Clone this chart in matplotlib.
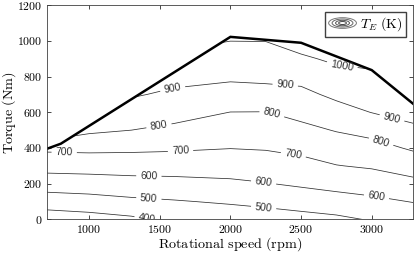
import matplotlib
matplotlib.use('Agg')
import matplotlib.pyplot as plt
from matplotlib.patches import Polygon, Ellipse
from matplotlib.legend_handler import HandlerBase
from matplotlib.ticker import FuncFormatter
import numpy as np

plt.rcParams['font.family'] = ['Liberation Sans', 'DejaVu Sans']
plt.rcParams['mathtext.fontset'] = 'cm'

# ── Data ─────────────────────────────────────────────────────────────────────
speed = [700, 1000, 1300, 1600, 2000, 2250, 2500, 2750, 3000, 3300]        # rpm
torque = [0, 100, 200, 300, 400, 500, 600, 700, 800, 900, 1000, 1100, 1200]  # Nm

# exhaust temperature T_E (K), one list per speed column, bottom -> top
t_700 = [344, 448, 547, 636, 719, 900, 960, 1000, 1030, 1050, 1075, 1100, 1120]
t_1000 = [360, 460, 555, 639, 723, 819, 895, 948, 1000, 1040, 1070, 1100, 1120]
t_1300 = [382, 480, 565, 643, 719, 800, 855, 910, 960, 1010, 1045, 1075, 1095]
t_1600 = [425, 493, 570, 644, 713, 780, 834, 883, 930, 977, 1023, 1050, 1070]
t_2000 = [440, 511, 583, 644, 702, 750, 799, 862, 916, 958, 1000.8, 1030, 1050]
t_2250 = [453, 524, 596, 653, 707, 752, 798, 867, 922, 962, 1001.6, 1030, 1050]
t_2500 = [465, 542, 614, 669, 724, 776, 827, 877, 928, 986, 1040, 1080, 1110]
t_2750 = [480, 560, 632, 697, 751, 805, 864, 920, 968, 1017, 1060, 1100, 1130]
t_3000 = [507, 579, 645, 711, 767, 830, 902, 942, 983, 1025, 1065, 1100, 1130]
t_3300 = [539, 604, 675, 745, 813, 877, 939, 1000, 1040, 1080, 1110, 1140, 1170]

levels = [400, 500, 600, 700, 800, 900, 1000]

# full-load (max torque) curve
max_speed = [700, 800, 2000, 2500, 3000, 3300]
max_torque = [395, 424, 1022, 989, 836, 643]

# contour label spots
label_pos = [(1410, 5), (1423, 118), (2235, 66), (1423, 245), (2235, 208),
             (3035, 133), (824, 376), (1647, 383), (2447, 370), (1494, 525),
             (2294, 594), (3070, 445), (1589, 740), (2388, 753), (3141, 561),
             (2788, 846)]

T = np.column_stack([t_700, t_1000, t_1300, t_1600, t_2000, t_2250,
                     t_2500, t_2750, t_3000, t_3300])

# ── Legend handle: concentric rings ──────────────────────────────────────────
class ContourProxy:
    pass


class ContourHandler(HandlerBase):
    def create_artists(self, legend, orig_handle, xdescent, ydescent,
                       width, height, fontsize, trans):
        cx = width / 2 - xdescent
        cy = height / 2 - ydescent
        arts = []
        for k, g in zip([1.0, 0.75, 0.5, 0.28], ['#777', '#666', '#555', '#444']):
            arts.append(Ellipse((cx, cy), width * k, height * 1.1 * k,
                                fill=False, edgecolor=g, lw=0.7,
                                transform=trans))
        return arts


fig = plt.figure(figsize=(4.15, 2.54), dpi=100)
ax = fig.add_axes([0.1125, 0.136, 0.882, 0.844])

cs = ax.contour(speed, torque, T, levels=levels, colors='#303030',
                linewidths=0.55)
clip = Polygon(list(zip(max_speed, max_torque)) + [(3300, -100), (700, -100)],
               closed=True, transform=ax.transData, facecolor='none',
               edgecolor='none')
ax.add_patch(clip)
cs.set_clip_path(clip)
ax.clabel(cs, manual=label_pos, inline=True, inline_spacing=4,
          fontsize=7.5, fmt='%d')

ax.plot(max_speed, max_torque, color='black', lw=1.8, solid_joinstyle='miter')

ax.set_xlim(700, 3290)
ax.set_ylim(0, 1200)
ax.set_xticks([1000, 1500, 2000, 2500, 3000])
ax.set_yticks(range(0, 1201, 200))
fmt = FuncFormatter(lambda v, p: r'$%d$' % v)
ax.xaxis.set_major_formatter(fmt)
ax.yaxis.set_major_formatter(fmt)
ax.tick_params(direction='in', top=True, right=True, length=3, width=0.5,
               labelsize=8.5, pad=3)
for s in ax.spines.values():
    s.set_linewidth(0.6)
    s.set_color('#404040')

ax.set_xlabel(r'$\mathrm{Rotational\ speed\ (rpm)}$', fontsize=10.2, va='center')
ax.set_ylabel(r'$\mathrm{Torque\ (Nm)}$', fontsize=10.2, va='center')
ax.xaxis.set_label_coords(0.5, -0.117)
ax.yaxis.set_label_coords(-0.104, 0.5)

ax.legend([ContourProxy()], [r'$T_E\ \mathrm{(K)}$'],
          handler_map={ContourProxy: ContourHandler()},
          loc='upper right', fontsize=10, fancybox=False, edgecolor='#404040',
          framealpha=1, handlelength=2.0, handletextpad=0.25,
          borderpad=0.25, borderaxespad=0.5)

fig.savefig('out.png', dpi=100)
plt.close(fig)
